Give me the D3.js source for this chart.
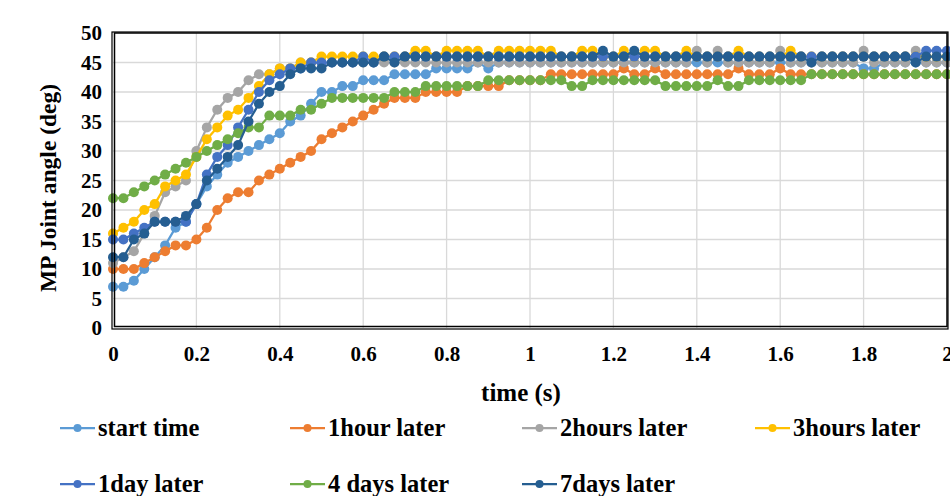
<!DOCTYPE html>
<html>
<head>
<meta charset="utf-8">
<script src="https://cdn.jsdelivr.net/npm/d3@7/dist/d3.min.js"></script>
<style>
body { margin: 0; background: #fff; }
svg text { font-family: "Liberation Serif", "Times New Roman", serif; font-weight: bold; fill: #000; }
.grid { stroke: #d9d9d9; stroke-width: 1.3; }
</style>
</head>
<body>
<svg id="myGraph" width="950" height="496"></svg>
<script>
var time = [0,0.025,0.05,0.075,0.1,0.125,0.15,0.175,0.2,0.225,0.25,0.275,0.3,0.325,0.35,0.375,0.4,0.425,0.45,0.475,
  0.5,0.525,0.55,0.575,0.6,0.625,0.65,0.675,0.7,0.725,0.75,0.775,0.8,0.825,0.85,0.875,0.9,0.925,0.95,0.975,
  1,1.025,1.05,1.075,1.1,1.125,1.15,1.175,1.2,1.225,1.25,1.275,1.3,1.325,1.35,1.375,1.4,1.425,1.45,1.475,
  1.5,1.525,1.55,1.575,1.6,1.625,1.65,1.675,1.7,1.725,1.75,1.775,1.8,1.825,1.85,1.875,1.9,1.925,1.95,1.975,2];

var startTime = [7,7,8,10,12,14,17,18,21,24,26,28,29,30,31,32,33,35,36,38,
  40,40,41,41,42,42,42,43,43,43,43,44,44,44,44,45,44,45,45,45,
  45,45,45,45,45,45,45,45,45,45,45,45,45,45,45,45,45,45,45,45,
  45,45,45,45,45,45,45,45,45,45,45,45,44,44,45,45,45,45,45,45,45];
var oneHour = [10,10,10,11,12,13,14,14,15,17,20,22,23,23,25,26,27,28,29,30,
  32,33,34,35,36,37,38,39,39,39,40,40,40,40,41,41,41,41,42,42,
  42,42,43,43,43,43,43,43,43,44,43,43,44,43,43,43,43,43,43,43,
  44,43,43,43,44,43,43,43,43,43,43,43,43,43,43,43,43,43,43,43,43];
var twoHours = [11,12,13,16,19,23,24,25,30,34,37,39,40,42,43,43,44,44,45,45,
  45,45,45,45,45,45,45,45,45,45,45,45,45,45,45,45,45,45,45,45,
  45,45,45,45,45,45,45,45,45,45,45,45,45,45,45,45,47,45,47,45,
  45,45,45,45,47,45,45,45,45,45,45,45,47,45,45,45,45,47,45,45,45];
var threeHours = [16,17,18,20,21,24,25,26,29,32,34,36,37,39,41,43,44,44,45,45,
  46,46,46,46,46,46,46,46,46,47,47,46,47,47,47,47,46,47,47,47,
  47,47,47,46,46,47,47,46,46,47,46,47,47,46,46,47,46,46,46,46,
  47,46,46,46,46,47,46,46,46,46,46,46,46,46,46,46,46,46,46,46,46];
var oneDay = [15,15,16,17,18,18,18,18,21,26,29,31,34,37,40,42,43,44,44,45,
  45,45,45,45,46,45,46,46,46,46,46,46,46,46,46,46,46,46,46,46,
  46,46,46,46,46,46,46,46,46,46,46,46,46,46,46,46,46,46,46,46,
  46,46,46,46,46,46,46,46,46,46,46,46,46,46,46,46,46,46,47,47,47];
var fourDays = [22,22,23,24,25,26,27,28,29,30,31,32,33,34,34,36,36,36,37,37,
  38,39,39,39,39,39,39,40,40,40,41,41,41,41,41,41,42,42,42,42,
  42,42,42,42,41,41,42,42,42,42,42,42,42,41,41,41,41,41,42,41,
  41,42,42,42,42,42,42,43,43,43,43,43,43,43,43,43,43,43,43,43,43];
var sevenDays = [12,12,15,16,18,18,18,19,21,25,27,29,31,35,38,40,41,43,44,44,
  44,45,45,45,45,45,46,45,46,46,46,46,46,46,46,46,46,46,46,46,
  46,46,46,46,46,46,46,47,46,46,47,46,46,46,46,46,46,46,46,46,
  46,46,46,46,46,46,46,45,46,46,46,46,46,46,46,46,46,45,46,46,46];

var seriesNames = ["start time","1hour later","2hours later","3hours later","1day later","4 days later","7days later"];
var seriesColors = ["#5b9bd5","#ed7d31","#a5a5a5","#ffc000","#4472c4","#70ad47","#255e91"];
var seriesValues = [startTime, oneHour, twoHours, threeHours, oneDay, fourDays, sevenDays];

var xTicks = [0,0.2,0.4,0.6,0.8,1,1.2,1.4,1.6,1.8,2];
var yTicks = [0,5,10,15,20,25,30,35,40,45,50];

// plot area
var plotLeft = 113, plotRight = 947, plotTop = 33, plotBottom = 328;

var xScale = d3.scaleLinear().domain([0,2]).range([plotLeft, plotRight]);
var yScale = d3.scaleLinear().domain([0,50]).range([plotBottom, plotTop]);

var svg = d3.select("#myGraph");

// grid
var grid = svg.append("g");
grid.selectAll("line.y")
    .data(yTicks.slice(1, -1))
    .enter()
    .append("line")
    .attr("class", "grid")
    .attr("x1", plotLeft).attr("x2", plotRight)
    .attr("y1", d => yScale(d)).attr("y2", d => yScale(d));
grid.selectAll("line.x")
    .data(xTicks.slice(1, -1))
    .enter()
    .append("line")
    .attr("class", "grid")
    .attr("x1", d => xScale(d)).attr("x2", d => xScale(d))
    .attr("y1", plotTop).attr("y2", plotBottom);

// axes (labels only, frame drawn below)
var yAxis = d3.axisLeft(yScale).tickValues(yTicks).tickSize(0).tickPadding(10);
var xAxis = d3.axisBottom(xScale).tickValues(xTicks).tickSize(0).tickPadding(18)
    .tickFormat(d3.format("~g"));

svg.append("g")
    .attr("transform", "translate(" + (plotLeft - 1) + ",0)")
    .call(yAxis)
    .call(g => g.select(".domain").remove())
    .selectAll("text")
    .style("font-size", "21px");

svg.append("g")
    .attr("transform", "translate(0," + plotBottom + ")")
    .call(xAxis)
    .call(g => g.select(".domain").remove())
    .selectAll("text")
    .style("font-size", "21px");

// series
var line = d3.line()
    .x((d, i) => xScale(time[i]))
    .y(d => yScale(d));

seriesValues.forEach(function(vals, s){
    var g = svg.append("g");
    g.append("path")
        .attr("d", line(vals))
        .attr("fill", "none")
        .attr("stroke", seriesColors[s])
        .attr("stroke-width", 2.25);
    g.selectAll("circle")
        .data(vals)
        .enter()
        .append("circle")
        .attr("cx", (d, i) => xScale(time[i]))
        .attr("cy", d => yScale(d))
        .attr("r", 5)
        .attr("fill", seriesColors[s]);
});

// frame
svg.append("rect")
    .attr("x", plotLeft - 1).attr("y", plotTop - 1)
    .attr("width", plotRight - plotLeft + 2).attr("height", plotBottom - plotTop + 2)
    .attr("fill", "none").attr("stroke", "#000").attr("stroke-width", 1.2);
svg.append("rect")
    .attr("x", plotLeft + 1.5).attr("y", plotTop)
    .attr("width", plotRight - plotLeft - 1.5).attr("height", plotBottom - plotTop - 1.5)
    .attr("fill", "none").attr("stroke", "#000").attr("stroke-width", 1.5);

// titles
svg.append("text")
    .attr("x", 521).attr("y", 401)
    .attr("text-anchor", "middle")
    .style("font-size", "25px")
    .text("time (s)");

svg.append("text")
    .attr("transform", "translate(56,188) rotate(-90)")
    .attr("text-anchor", "middle")
    .style("font-size", "23.5px")
    .text("MP Joint angle (deg)");

// legend
var legendX = [60, 290, 522, 755];
var legendY = [428, 484];
var legend = svg.append("g");
seriesNames.forEach(function(name, s){
    var lx = legendX[s % 4];
    var ly = legendY[Math.floor(s / 4)];
    var item = legend.append("g");
    item.append("line")
        .attr("x1", lx).attr("x2", lx + 35)
        .attr("y1", ly).attr("y2", ly)
        .attr("stroke", seriesColors[s]).attr("stroke-width", 2.25);
    item.append("circle")
        .attr("cx", lx + 17.5).attr("cy", ly).attr("r", 4)
        .attr("fill", seriesColors[s]);
    item.append("text")
        .attr("x", lx + 38).attr("y", ly + 8)
        .style("font-size", "24.5px")
        .text(name);
});
</script>
</body>
</html>
